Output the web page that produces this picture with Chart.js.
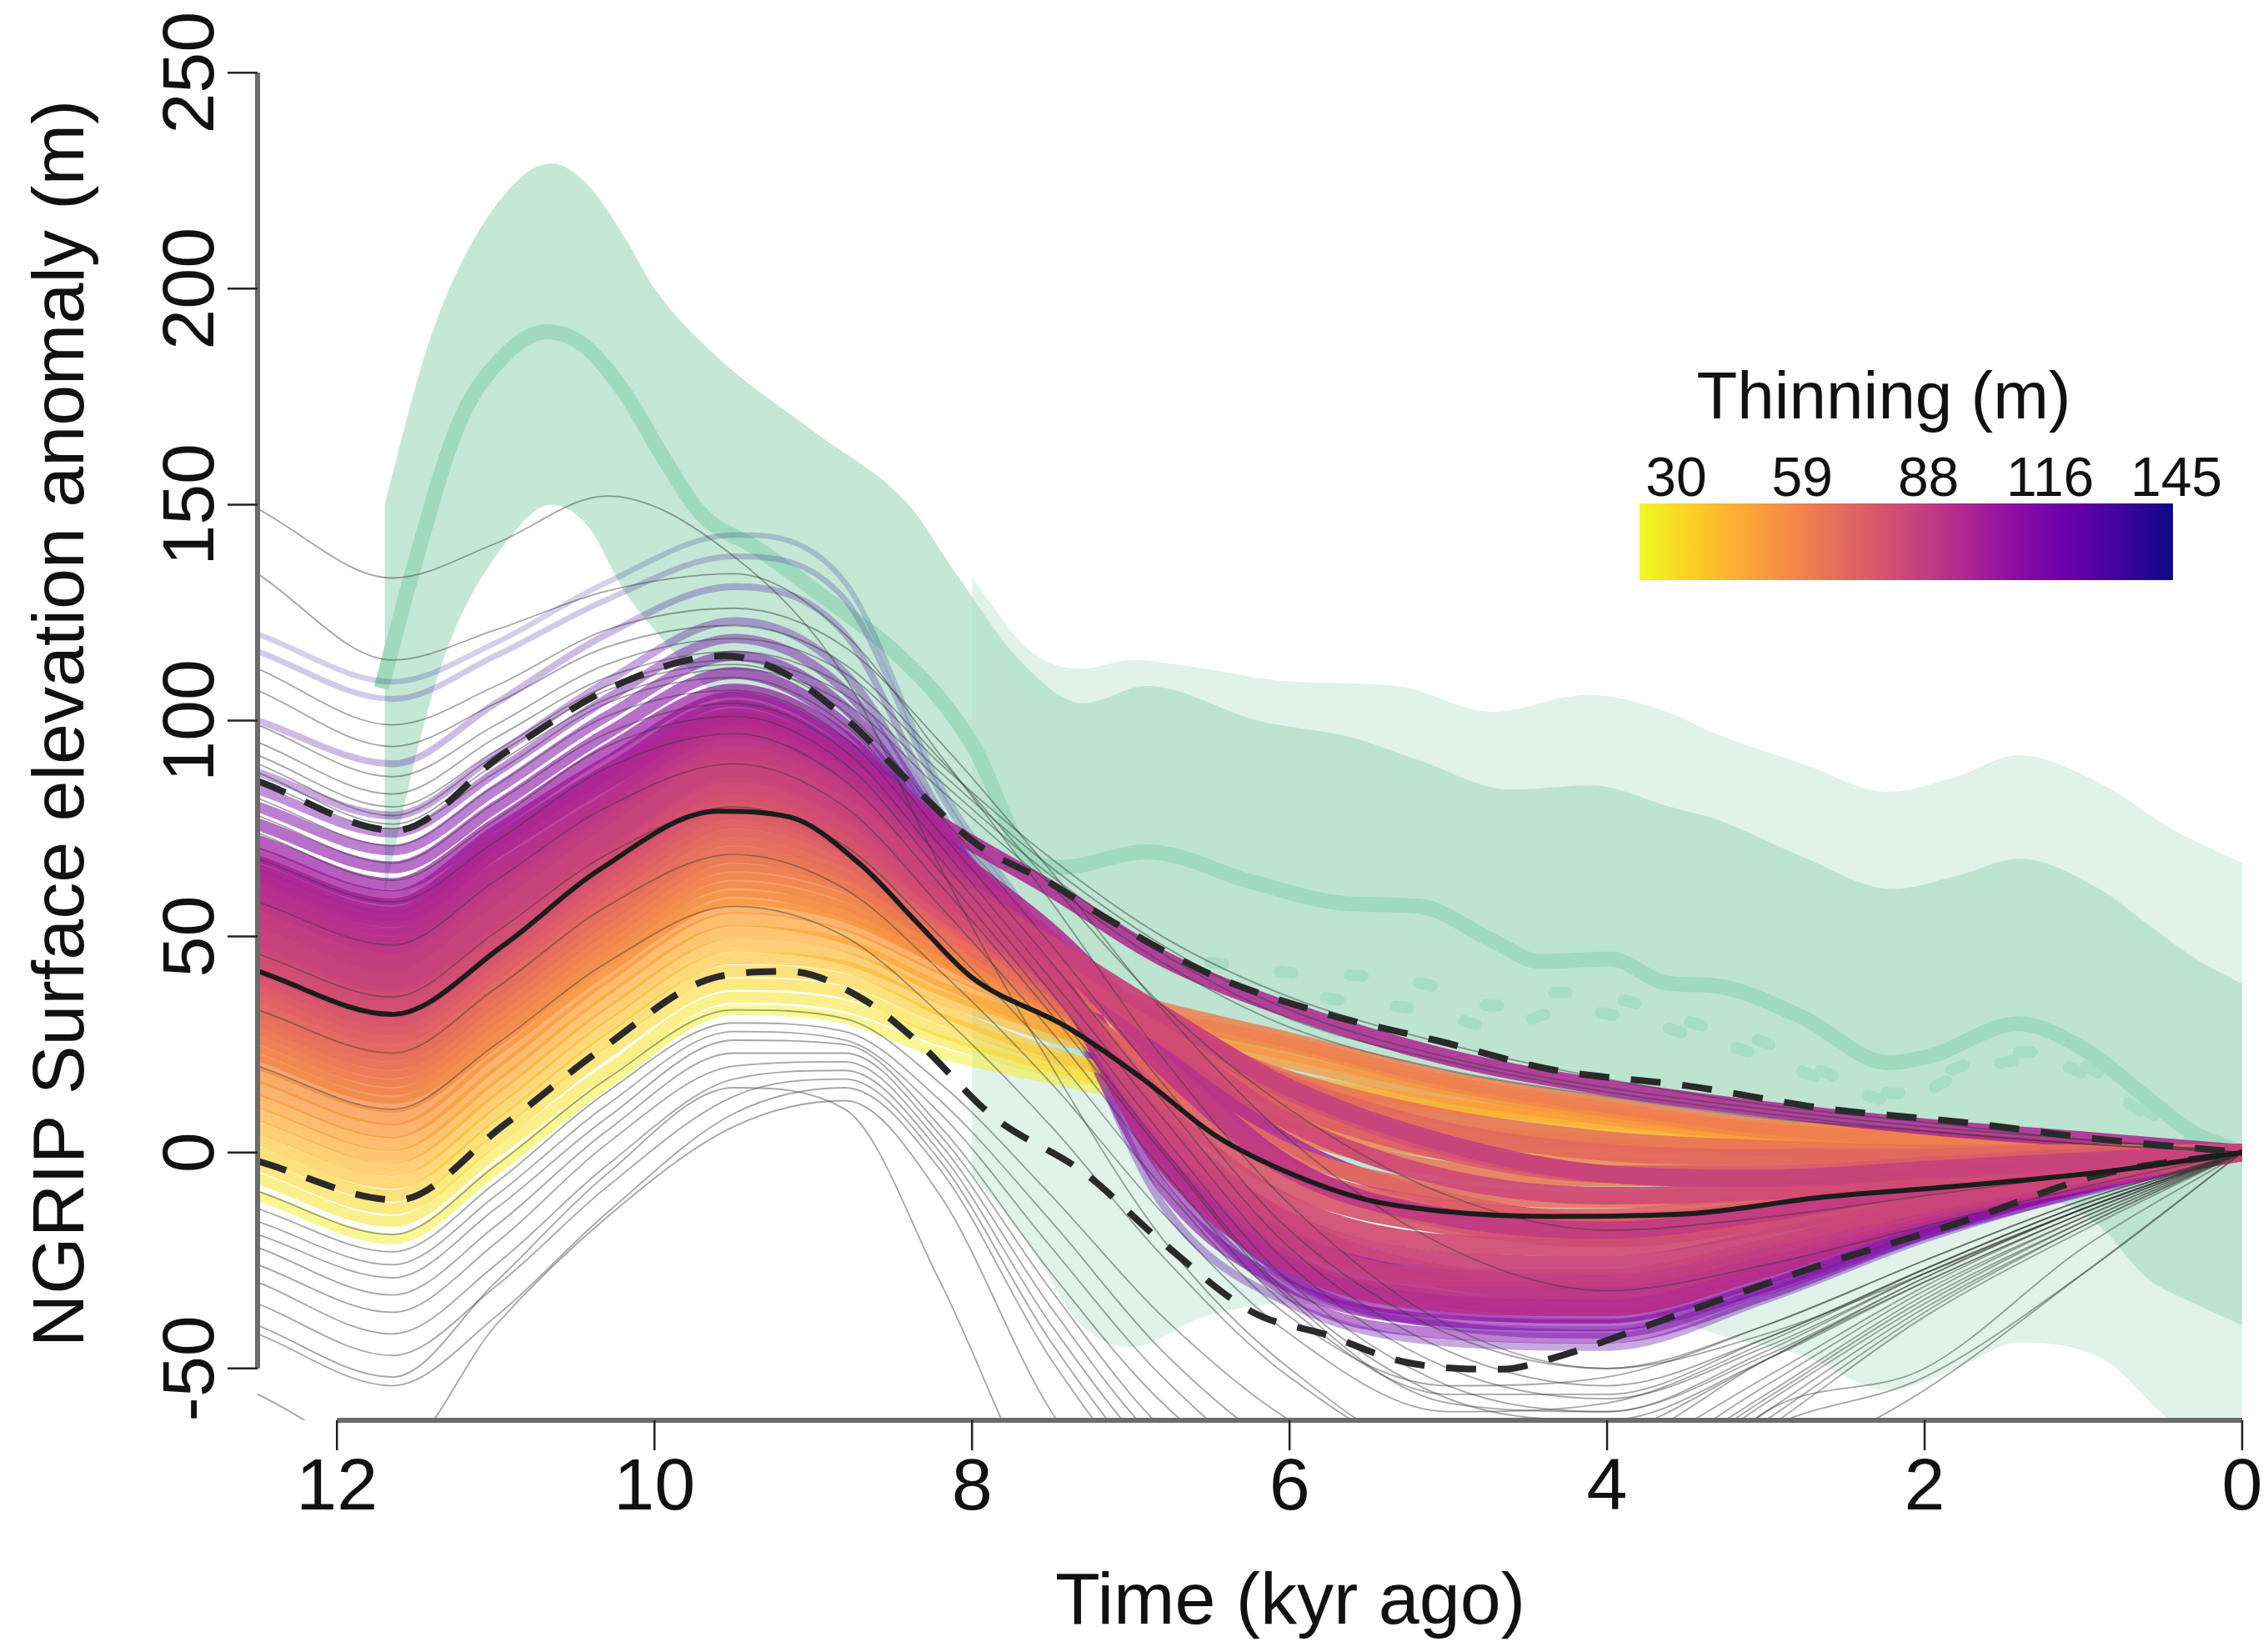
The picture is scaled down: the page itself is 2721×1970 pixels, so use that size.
<!DOCTYPE html>
<html>
<head>
<meta charset="utf-8">
<script src="https://cdn.jsdelivr.net/npm/chart.js@4.4.1/dist/chart.umd.min.js"></script>
<style>
  html, body { margin: 0; padding: 0; background: #fff; }
  #chart { display: block; }
</style>
</head>
<body>
<canvas id="chart" width="2721" height="1970"></canvas>
<script>
// ---- data ----
const timeKnots = [12.5, 11.65, 11.0, 10.3, 9.5, 8.8, 8.2, 7.5, 6.8, 6.0, 5.0, 4.0, 3.0, 2.0, 1.0, 0];

// accepted ensemble members, coloured by thinning (m)
const memberThinning = [33, 36, 39, 42, 45, 48, 51, 54, 57, 59, 61, 63, 65, 67, 69, 71, 73, 75, 77, 79,
  81, 83, 85, 86, 88, 89, 91, 92, 94, 96, 97, 99, 100, 101, 103, 105, 109, 113, 117, 121, 126, 132, 139, 144];
const memberValues = [
  [-10, -20, -4, 16, 33, 31, 23, 17, 12, 7, 3, 2, 2, 1, 1, 0],
  [-6, -16, 0, 19, 36, 34, 26, 19, 14, 10, 7, 5, 4, 3, 1, 0],
  [-3, -13, 3, 23, 39, 37, 28, 20, 14, 8, 2, 0, 0, 0, 0, 0],
  [0, -10, 6, 26, 42, 40, 31, 22, 17, 13, 10, 8, 6, 4, 2, 0],
  [3, -7, 9, 29, 45, 43, 33, 23, 16, 10, 5, 3, 2, 1, 1, 0],
  [6, -4, 12, 32, 48, 45, 36, 27, 21, 16, 11, 7, 4, 2, 1, 0],
  [9, -1, 15, 35, 51, 48, 38, 29, 23, 17, 11, 6, 3, 2, 1, 0],
  [12, 2, 18, 38, 54, 50, 40, 29, 20, 12, 5, 2, 1, 0, 0, 0],
  [15, 5, 21, 41, 57, 53, 43, 33, 27, 21, 13, 8, 4, 2, 1, 0],
  [18, 8, 24, 43, 59, 55, 45, 35, 29, 23, 15, 9, 5, 3, 1, 0],
  [21, 11, 26, 45, 61, 56, 45, 32, 22, 12, 4, 0, -1, -1, 0, 0],
  [23, 13, 28, 47, 63, 58, 47, 37, 31, 25, 16, 10, 5, 3, 1, 0],
  [25, 15, 30, 49, 65, 60, 48, 34, 21, 8, 0, -3, -3, -2, -1, 0],
  [27, 17, 32, 51, 67, 62, 50, 40, 33, 26, 17, 11, 6, 3, 1, 0],
  [29, 19, 34, 53, 69, 63, 50, 35, 20, 5, -4, -6, -5, -3, -1, 0],
  [31, 21, 36, 55, 71, 65, 52, 39, 28, 17, 8, 3, 1, 0, 0, 0],
  [33, 23, 38, 57, 73, 66, 52, 36, 18, 0, -9, -11, -9, -5, -2, 0],
  [35, 25, 40, 59, 75, 68, 54, 41, 30, 16, 5, 0, -1, -1, 0, 0],
  [37, 27, 42, 61, 77, 70, 55, 38, 16, -4, -13, -15, -11, -7, -3, 0],
  [39, 29, 44, 63, 79, 71, 56, 42, 27, 11, 0, -5, -5, -3, -1, 0],
  [41, 31, 46, 65, 81, 72, 56, 39, 12, -8, -17, -19, -15, -9, -4, 0],
  [43, 33, 48, 67, 83, 74, 58, 44, 30, 14, 1, -5, -6, -4, -2, 0],
  [45, 35, 50, 69, 85, 76, 58, 40, 10, -12, -21, -22, -17, -10, -5, 0],
  [47, 37, 52, 70, 86, 77, 60, 45, 27, 7, -6, -10, -9, -6, -3, 0],
  [49, 39, 54, 72, 88, 79, 61, 40, 6, -16, -25, -26, -20, -12, -5, 0],
  [50, 40, 55, 73, 89, 80, 63, 48, 32, 15, 2, -5, -6, -4, -2, 0],
  [52, 42, 57, 75, 91, 82, 63, 41, 4, -20, -29, -29, -22, -13, -6, 0],
  [54, 44, 59, 76, 92, 83, 65, 47, 20, -4, -15, -18, -14, -8, -4, 0],
  [56, 46, 61, 78, 94, 84, 66, 42, 4, -22, -31, -32, -24, -14, -6, 0],
  [58, 48, 63, 80, 96, 86, 68, 49, 22, -3, -16, -20, -16, -10, -5, 0],
  [60, 50, 65, 81, 97, 87, 68, 42, -2, -26, -35, -36, -27, -15, -7, 0],
  [62, 52, 67, 83, 99, 89, 71, 51, 26, 2, -11, -16, -13, -8, -4, 0],
  [64, 54, 70, 86, 100, 91, 76, 61, 45, 33, 22, 15, 10, 6, 3, 0],
  [65, 55, 70, 86, 101, 90, 70, 43, 2, -25, -34, -36, -27, -15, -7, 0],
  [67, 57, 72, 88, 103, 92, 72, 46, 8, -16, -28, -30, -23, -13, -6, 0],
  [69, 59, 74, 90, 105, 94, 73, 45, 5, -19, -30, -33, -25, -14, -6, 0],
  [72, 62, 76, 93, 107, 96, 72, 41, 0, -28, -37, -38, -29, -17, -8, 0],
  [76, 66, 80, 97, 111, 99, 73, 40, -8, -31, -39, -40, -31, -18, -8, 0],
  [80, 70, 84, 101, 115, 103, 74, 41, -4, -33, -42, -43, -33, -19, -9, 0],
  [84, 74, 88, 105, 119, 107, 76, 42, -1, -29, -40, -42, -32, -19, -8, 0],
  [88, 78, 92, 109, 123, 111, 77, 42, -12, -35, -44, -45, -34, -20, -9, 0],
  [100, 90, 104, 120, 131, 120, 79, 44, -3, -30, -40, -41, -31, -18, -8, 0],
  [116, 105, 115, 128, 138, 128, 83, 46, 0, -27, -37, -39, -30, -17, -8, 0],
  [120, 109, 118, 132, 143, 132, 85, 48, 3, -24, -34, -36, -28, -16, -7, 0]
];

// rejected members (thin grey)
const rejectedValues = [
  [149, 133, 141, 152, 138, 110, 66, 20, -20, -50, -70, -68, -48, -30, -14, 0],
  [134, 114, 121, 130, 134, 120, 92, 58, 22, -12, -40, -50, -42, -28, -13, 0],
  [112, 99, 108, 121, 126, 117, 95, 65, 33, 3, -22, -32, -26, -17, -8, 0],
  [107, 94, 104, 117, 122, 113, 91, 62, 34, 10, -10, -18, -15, -10, -5, 0],
  [99, 87, 99, 113, 119, 111, 90, 68, 50, 36, 25, 17, 11, 7, 3, 0],
  [95, 83, 96, 110, 116, 108, 88, 66, 48, 33, 22, 15, 10, 6, 3, 0],
  [92, 80, 93, 108, 114, 106, 86, 64, 46, 31, 21, 14, 9, 5, 2, 0],
  [88, 76, 90, 105, 112, 104, 84, 62, 44, 29, 19, 13, 8, 5, 2, 0],
  [90, 78, 92, 107, 113, 102, 78, 48, 16, -18, -42, -50, -40, -25, -11, 0],
  [86, 75, 88, 104, 110, 99, 74, 44, 12, -22, -46, -54, -43, -27, -12, 0],
  [82, 71, 85, 101, 107, 96, 71, 40, 8, -26, -50, -57, -45, -28, -13, 0],
  [78, 67, 81, 97, 104, 93, 68, 37, 4, -30, -54, -60, -47, -29, -13, 0],
  [74, 63, 77, 94, 101, 90, 65, 34, 1, -33, -57, -62, -48, -30, -14, 0],
  [68, 58, 72, 89, 97, 86, 62, 32, 0, -34, -58, -60, -46, -28, -13, 0],
  [58, 48, 63, 80, 90, 80, 57, 28, -4, -36, -56, -56, -43, -27, -12, 0],
  [46, 36, 51, 69, 80, 71, 50, 23, -8, -38, -54, -52, -40, -25, -11, 0],
  [33, 23, 38, 57, 69, 61, 42, 16, -14, -42, -60, -58, -44, -27, -12, 0],
  [20, 10, 25, 44, 57, 50, 32, 6, -24, -52, -70, -66, -48, -29, -13, 0],
  [-9, -19, -3, 17, 33, 31, 16, -10, -38, -62, -78, -72, -52, -31, -14, 0],
  [-13, -23, -7, 14, 30, 28, 12, -16, -46, -70, -84, -76, -54, -32, -15, 0],
  [-16, -26, -10, 11, 28, 26, 9, -22, -52, -76, -88, -78, -56, -33, -15, 0],
  [-19, -29, -13, 8, 26, 25, 6, -28, -58, -80, -90, -80, -57, -34, -16, 0],
  [-22, -33, -17, 5, 23, 23, 4, -32, -64, -84, -92, -82, -58, -35, -16, 0],
  [-26, -37, -21, 2, 20, 21, 2, -36, -68, -86, -94, -84, -60, -36, -17, 0],
  [-30, -42, -26, -3, 17, 19, 0, -40, -72, -90, -96, -86, -62, -37, -17, 0],
  [-35, -47, -31, -8, 13, 17, -2, -44, -76, -92, -98, -88, -64, -38, -18, 0],
  [-42, -54, -38, -14, 9, 15, -4, -48, -80, -95, -100, -90, -64, -52, -28, 0],
  [-56, -70, -40, -15, 6, 12, -10, -60, -90, -100, -105, -95, -60, -50, -22, 0],
  [-40, -52, -30, -5, 15, 10, -30, -85, -110, -110, -105, -95, -75, -55, -28, 0]
];

// ensemble summary: mean and 90 % bounds
const meanTime = [12.5, 11.65, 10.95, 10.35, 9.6, 9.15, 8.7, 8.34, 8.0, 7.4, 6.93, 6.47, 6.0, 5.53, 5.06, 4.35, 3.49, 2.63, 1.76, 0.9, 0];
const meanValues = [42, 32, 48, 65.4, 79, 77.7, 66.6, 53, 40.5, 29, 17.2, 4, -4.8, -10.8, -13.5, -14.8, -14.2, -10.3, -7.7, -4.6, 0];
const upperTime = [12.5, 11.63, 10.94, 10.22, 9.56, 9.21, 8.78, 8.41, 7.97, 7.49, 7.17, 6.47, 5.76, 5.06, 4.35, 3.49, 2.63, 1.76, 0.9, 0];
const upperValues = [86, 74.6, 92.6, 108.5, 115, 111.5, 100, 86.3, 71.4, 62, 54.6, 40.8, 32, 25.8, 19.2, 15.4, 10.2, 7, 3.1, 0];
const lowerTime = [12.5, 11.62, 10.95, 10.35, 9.6, 9.15, 8.7, 8.34, 7.87, 7.29, 6.81, 6.23, 5.76, 5.29, 4.67, 4.35, 3.49, 2.63, 1.76, 0.9, 0];
const lowerValues = [-2, -11, 6.3, 23.5, 40.7, 41.9, 35.8, 25.5, 8.4, -4.8, -20.5, -37, -42.3, -48.4, -50.2, -47.7, -36.7, -25.8, -16, -5.2, 0];

// independent reconstruction (green): envelopes, central estimate, dashed estimates
const darkBandTime = [11.7, 11.46, 11.28, 10.94, 10.65, 10.42, 10.19, 10.0, 9.6, 9.0, 8.4, 8.1, 7.7, 7.3, 6.9, 6.2, 5.6, 5.2, 4.6, 4.1, 3.6, 3.3, 2.8, 2.2, 1.8, 1.4, 0.9, 0.6, 0.3, 0];
const darkBandTop = [150, 183, 201, 222, 229, 224, 212, 200, 184, 167, 150, 134, 114, 104, 108, 100, 96, 91, 84, 85, 80, 77, 69, 61, 64, 68, 61, 53, 45, 39];
const darkBandBottom = [60, 98, 119, 141, 150, 145, 130, 121, 105, 85, 60, 45, 30, 20, 10, 0, -5, -8, -10, -10, -10, -10, -8, -6, -6, -8, -17, -29, -35, -40];
const lightBandTime = [8.0, 7.63, 7.31, 7.0, 6.54, 6.0, 5.33, 4.72, 4.12, 3.62, 3.32, 2.77, 2.23, 1.8, 1.41, 0.87, 0.45, 0];
const lightBandTop = [133, 116, 112, 114, 112, 109, 108, 102, 106, 102, 97, 90, 83.5, 87, 92, 85, 75, 67];
const lightBandBottom = [-5, -22, -40, -45, -38, -35, -35, -35, -35, -38, -42, -47, -55, -50, -44, -48, -62, -70];
const greenTime = [11.72, 11.52, 11.23, 10.94, 10.68, 10.45, 10.19, 9.93, 9.7, 9.36, 8.93, 8.49, 8.2, 7.97, 7.7, 7.44, 6.9, 6.23, 5.63, 5.18, 4.72, 4.42, 3.98, 3.62, 3.32, 2.77, 2.23, 1.96, 1.41, 1.0, 0.6, 0.32, 0];
const greenValues = [107.5, 135, 169, 184.7, 190, 187, 176, 160, 147.6, 140, 128.5, 116, 105, 92.7, 71, 66, 69.6, 62.6, 57.6, 57, 49, 44.2, 44.8, 39.2, 38.6, 31.3, 20.8, 22.4, 29.8, 24, 12.7, 4.8, 0];
const greenDashATime = [6.5, 6.0, 5.58, 5.14, 4.72, 4.3, 3.87, 3.46, 3.03, 2.62, 2.18, 1.77, 1.36, 0.95, 0.6, 0.3, 0];
const greenDashAValues = [44, 41.7, 41, 39, 34, 37, 35, 30, 25.8, 18.4, 13.7, 20, 23.3, 19.4, 9.7, 3, 0];
const greenDashBTime = [6.0, 5.56, 5.12, 4.7, 4.26, 3.83, 3.46, 3.03, 2.62, 2.18, 1.77, 1.36, 0.95, 0.6, 0.3, 0];
const greenDashBValues = [37, 34.7, 32.8, 29, 32.8, 31, 27, 22.4, 16.7, 12, 18, 21.5, 17.5, 8.5, 3, 0];

// axes and legend labels
const yTicks = [-50, 0, 50, 100, 150, 200, 250];
const xTicks = [12, 10, 8, 6, 4, 2, 0];
const legendTicks = [30, 59, 88, 116, 145];

// ---- colour map (plasma) ----
const plasma = [[13, 8, 135], [65, 4, 157], [106, 0, 168], [143, 13, 164], [177, 42, 144], [204, 71, 120],
  [225, 100, 98], [242, 132, 75], [252, 166, 54], [252, 206, 37], [240, 249, 33]];

function plasmaAt(s) {
  s = Math.min(1, Math.max(0, s));
  const f = s * 10;
  const i = Math.min(9, Math.floor(f));
  const t = f - i;
  return plasma[i].map((c, k) => Math.round(c + (plasma[i + 1][k] - c) * t));
}

// members far from the central thinning are drawn fainter and thinner
function thinWeight(th) {
  const spread = th < 90 ? 62 : 30;
  return Math.exp(-Math.pow((th - 90) / spread, 2));
}

function thinColor(th) {
  const rgb = plasmaAt((145 - th) / 115);
  return `rgba(${rgb.join(',')},${(0.16 + 0.78 * thinWeight(th)).toFixed(2)})`;
}

const pts = (xs, ys) => xs.map((x, i) => ({ x: x, y: ys[i] }));

// ---- datasets (lower order = drawn on top) ----
const datasets = [];

datasets.push({ data: pts(meanTime, meanValues), borderColor: '#1c1c1c', borderWidth: 6, order: 1 });
datasets.push({ data: pts(upperTime, upperValues), borderColor: '#2a2a2a', borderWidth: 8, borderDash: [36, 26], order: 1 });
datasets.push({ data: pts(lowerTime, lowerValues), borderColor: '#2a2a2a', borderWidth: 8, borderDash: [36, 26], order: 1 });

rejectedValues.forEach(v => {
  datasets.push({ data: pts(timeKnots, v), borderColor: 'rgba(55,55,55,0.45)', borderWidth: 1.8, order: 4 });
});

// most likely members first, so they end up drawn on top
memberValues
  .map((v, i) => i)
  .sort((a, b) => thinWeight(memberThinning[b]) - thinWeight(memberThinning[a]))
  .forEach(i => {
    const th = memberThinning[i];
    datasets.push({ data: pts(timeKnots, memberValues[i]), borderColor: thinColor(th),
      borderWidth: 6 + 15 * thinWeight(th), order: 5 });
  });

datasets.push({ data: pts(greenTime, greenValues), borderColor: '#9fdabd', borderWidth: 18, order: 9 });
datasets.push({ data: pts(greenDashATime, greenDashAValues), borderColor: '#a7ddc3', borderWidth: 14,
  borderDash: [16, 68], borderCapStyle: 'round', order: 9 });
datasets.push({ data: pts(greenDashBTime, greenDashBValues), borderColor: '#a7ddc3', borderWidth: 14,
  borderDash: [16, 68], borderCapStyle: 'round', borderDashOffset: 40, order: 9 });

datasets.push({ data: pts(darkBandTime, darkBandTop), borderWidth: 0, borderColor: 'rgba(0,0,0,0)',
  fill: '+1', backgroundColor: 'rgba(177,223,200,0.74)', order: 11 });
datasets.push({ data: pts(darkBandTime, darkBandBottom), borderWidth: 0, borderColor: 'rgba(0,0,0,0)', order: 11 });
datasets.push({ data: pts(lightBandTime, lightBandTop), borderWidth: 0, borderColor: 'rgba(0,0,0,0)',
  fill: '+1', backgroundColor: '#e0f2e9', order: 12 });
datasets.push({ data: pts(lightBandTime, lightBandBottom), borderWidth: 0, borderColor: 'rgba(0,0,0,0)', order: 12 });

// ---- R-style axes, labels and colour bar ----
const FONT = '"Liberation Sans", Arial, Helvetica, sans-serif';

const rAxes = {
  id: 'rAxes',
  afterDraw(chart) {
    const ctx = chart.ctx;
    const xs = chart.scales.x;
    const ys = chart.scales.y;
    const area = chart.chartArea;
    ctx.save();

    // axis lines
    ctx.strokeStyle = '#6b6b6b';
    ctx.lineWidth = 6;
    ctx.beginPath();
    ctx.moveTo(area.left, ys.getPixelForValue(-50));
    ctx.lineTo(area.left, ys.getPixelForValue(250));
    ctx.moveTo(xs.getPixelForValue(12), area.bottom);
    ctx.lineTo(xs.getPixelForValue(0), area.bottom);
    ctx.stroke();

    // tick marks
    ctx.strokeStyle = '#222';
    ctx.lineWidth = 2.5;
    ctx.beginPath();
    yTicks.forEach(v => {
      const py = ys.getPixelForValue(v);
      ctx.moveTo(area.left, py);
      ctx.lineTo(area.left - 36, py);
    });
    xTicks.forEach(v => {
      const px = xs.getPixelForValue(v);
      ctx.moveTo(px, area.bottom);
      ctx.lineTo(px, area.bottom + 36);
    });
    ctx.stroke();

    // tick labels
    ctx.fillStyle = '#111';
    ctx.font = '88px ' + FONT;
    ctx.textAlign = 'center';
    ctx.textBaseline = 'alphabetic';
    xTicks.forEach(v => {
      ctx.fillText(String(v), xs.getPixelForValue(v), 1811);
    });
    yTicks.forEach(v => {
      ctx.save();
      ctx.translate(256, ys.getPixelForValue(v));
      ctx.rotate(-Math.PI / 2);
      ctx.fillText(String(v), 0, 0);
      ctx.restore();
    });

    // axis titles
    ctx.fillText('Time (kyr ago)', 1548, 1948);
    ctx.save();
    ctx.translate(100, 868);
    ctx.rotate(-Math.PI / 2);
    ctx.fillText('NGRIP Surface elevation anomaly (m)', 0, 0);
    ctx.restore();

    // colour bar legend
    const cb = { x0: 1967, x1: 2607, y0: 604, y1: 696 };
    const grad = ctx.createLinearGradient(cb.x0, 0, cb.x1, 0);
    plasma.forEach((c, i) => grad.addColorStop(1 - i / 10, `rgb(${c.join(',')})`));
    ctx.fillStyle = grad;
    ctx.fillRect(cb.x0, cb.y0, cb.x1 - cb.x0, cb.y1 - cb.y0);

    ctx.fillStyle = '#111';
    ctx.font = '80px ' + FONT;
    ctx.fillText('Thinning (m)', 2260, 502);
    ctx.font = '66px ' + FONT;
    legendTicks.forEach(v => {
      ctx.fillText(String(v), 2011 + (v - 30) / 115 * 600, 595);
    });

    ctx.restore();
  }
};

new Chart(document.getElementById('chart').getContext('2d'), {
  type: 'line',
  data: { datasets: datasets },
  options: {
    responsive: false,
    animation: false,
    devicePixelRatio: 1,
    events: [],
    layout: { padding: { left: 309, right: 31, top: 25, bottom: 266 } },
    elements: {
      point: { radius: 0 },
      line: { cubicInterpolationMode: 'monotone', borderJoinStyle: 'round', fill: false }
    },
    scales: {
      x: { type: 'linear', min: 0, max: 12.5, reverse: true, display: false },
      y: { type: 'linear', min: -62, max: 262, display: false }
    },
    plugins: {
      legend: { display: false },
      tooltip: { enabled: false }
    }
  },
  plugins: [rAxes]
});
</script>
</body>
</html>
